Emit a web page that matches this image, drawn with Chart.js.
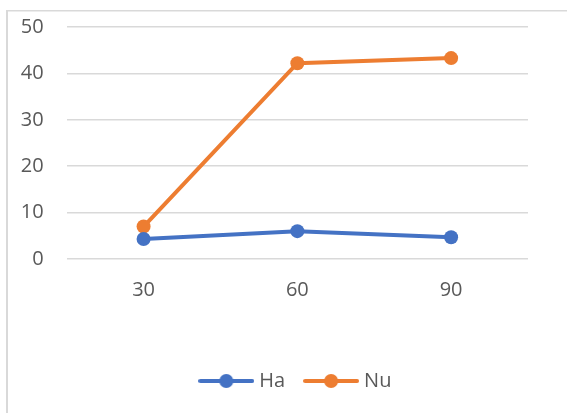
<!DOCTYPE html>
<html>
<head>
<meta charset="utf-8">
<script src="https://cdn.jsdelivr.net/npm/chart.js@4/dist/chart.umd.min.js"></script>
<style>
html,body{margin:0;padding:0;background:#fff;}
#wrap{position:relative;width:567px;height:413px;}
canvas{display:block;}
</style>
</head>
<body>
<div id="wrap"><canvas id="c" width="567" height="413"></canvas></div>
<script>
const categories = ["30", "60", "90"];
const haValues = [4.3, 6.0, 4.7];
const nuValues = [7.0, 42.2, 43.3];
const yTicks = [0, 10, 20, 30, 40, 50];

const BLUE = "#4472C4";
const ORANGE = "#ED7D31";
const TEXT = "#595959";
const GRID = "#D9D9D9";
const FONT = "'Open Sans', 'Liberation Sans', sans-serif";

function legendIcon(color) {
  const cv = document.createElement("canvas");
  cv.width = 56; cv.height = 16;
  const g = cv.getContext("2d");
  g.strokeStyle = color; g.lineWidth = 4; g.lineCap = "round";
  g.beginPath(); g.moveTo(2, 8); g.lineTo(54, 8); g.stroke();
  g.fillStyle = color;
  g.beginPath(); g.arc(28, 8, 7, 0, Math.PI * 2); g.fill();
  return cv;
}

const framePlugin = {
  id: "frame",
  beforeDraw(chart) {
    const ctx = chart.ctx;
    ctx.save();
    ctx.fillStyle = "#fff";
    ctx.fillRect(0, 0, chart.width, chart.height);
    ctx.fillStyle = GRID;
    ctx.fillRect(6, 10, 2, chart.height - 10);
    ctx.fillRect(6, 10, chart.width - 6, 1.5);
    ctx.restore();
  }
};

new Chart(document.getElementById("c"), {
  type: "line",
  data: {
    labels: categories,
    datasets: [
      { label: "Ha", data: haValues, borderColor: BLUE, backgroundColor: BLUE,
        borderWidth: 4, pointStyle: "circle", pointRadius: 7, pointHoverRadius: 7,
        pointBackgroundColor: BLUE, pointBorderWidth: 0, tension: 0 },
      { label: "Nu", data: nuValues, borderColor: ORANGE, backgroundColor: ORANGE,
        borderWidth: 4, pointStyle: "circle", pointRadius: 7, pointHoverRadius: 7,
        pointBackgroundColor: ORANGE, pointBorderWidth: 0, tension: 0 }
    ]
  },
  options: {
    responsive: false,
    animation: false,
    layout: { padding: { left: 0, right: 39, top: 27, bottom: 12 } },
    plugins: {
      legend: {
        position: "bottom",
        fullSize: false,
        labels: {
          usePointStyle: true,
          pointStyleWidth: 46,
          boxHeight: 16,
          padding: 23,
          color: TEXT,
          font: { family: FONT, size: 20 },
          generateLabels(chart) {
            return chart.data.datasets.map((ds, i) => ({
              text: ds.label,
              fillStyle: ds.borderColor,
              strokeStyle: ds.borderColor,
              lineWidth: 0,
              pointStyle: legendIcon(ds.borderColor),
              hidden: false,
              datasetIndex: i,
              fontColor: TEXT
            }));
          }
        }
      },
      tooltip: { enabled: false }
    },
    scales: {
      x: {
        type: "category",
        offset: true,
        grid: { display: false, drawTicks: false },
        border: { display: false },
        ticks: { color: TEXT, font: { family: FONT, size: 20 }, padding: 19 },
        afterFit(s) { s.height = 89; s.paddingLeft = 0; s.paddingRight = 0; }
      },
      y: {
        min: 0, max: 50,
        afterBuildTicks(s) { s.ticks = yTicks.map(v => ({ value: v })); },
        grid: { color: GRID, lineWidth: 1.5, drawTicks: false },
        border: { display: false },
        ticks: { color: TEXT, font: { family: FONT, size: 20 }, padding: 23 },
        afterFit(s) { s.width = 66.7; s.paddingTop = 0; s.paddingBottom = 0; }
      }
    }
  },
  plugins: [framePlugin]
});
</script>
</body>
</html>
